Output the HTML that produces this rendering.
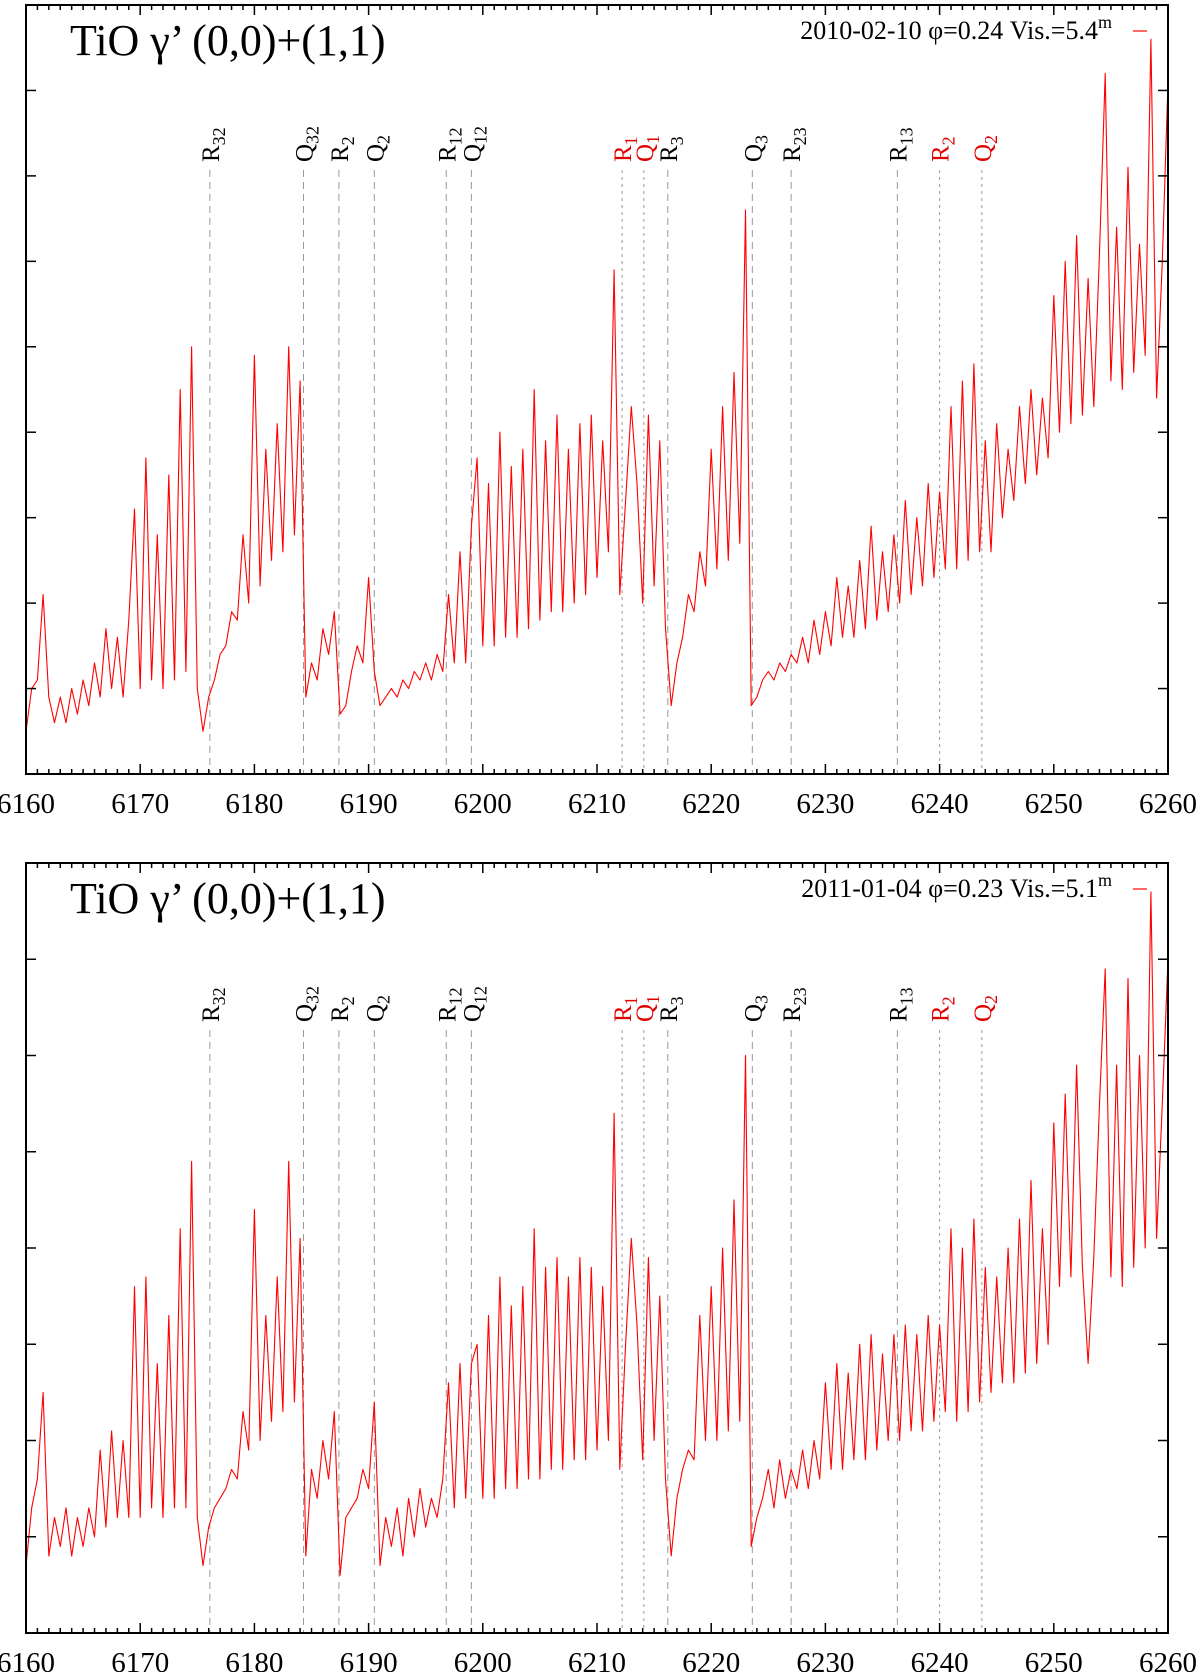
<!DOCTYPE html>
<html><head><meta charset="utf-8"><title>TiO spectra</title>
<style>html,body{margin:0;padding:0;background:#fff}svg{display:block}</style></head>
<body>
<svg id="chart" xmlns="http://www.w3.org/2000/svg" width="1200" height="1672" viewBox="0 0 1200 1672" font-family="'Liberation Serif', serif"></svg>
<script>
const xTicks = [6160,6170,6180,6190,6200,6210,6220,6230,6240,6250,6260];
const lambdaStart = 6160;
const lambdaStep = 0.5;
const markerLambdas = [6176.1,6184.3,6187.4,6190.5,6196.8,6199.0,6212.2,6214.1,6216.2,6223.6,6227.0,6236.3,6240.0,6243.7];
const markerLetters = ['R','Q','R','Q','R','Q','R','Q','R','Q','R','R','R','Q'];
const markerSubs = ['32','32','2','2','12','12','1','1','3','3','23','13','2','2'];
const markerRed = [0,0,0,0,0,0,1,1,0,0,0,0,1,1];
const titles = ["TiO γ’ (0,0)+(1,1)","TiO γ’ (0,0)+(1,1)"];
const legends = ["2010-02-10 φ=0.24 Vis.=5.4","2011-01-04 φ=0.23 Vis.=5.1"];
const fluxTop = [0.5,1.0,1.1,2.1,0.9,0.6,0.9,0.6,1.0,0.7,1.1,0.8,1.3,0.9,1.7,1.0,1.6,0.9,1.8,3.1,
1.0,3.7,1.1,2.8,1.0,3.5,1.1,4.5,1.2,5.0,1.0,0.5,0.9,1.1,1.4,1.5,1.9,1.8,2.8,2.0,
4.9,2.2,3.8,2.5,4.1,2.6,5.0,2.8,4.6,0.9,1.3,1.1,1.7,1.4,1.9,0.7,0.8,1.2,1.5,1.3,
2.3,1.2,0.8,0.9,1.0,0.9,1.1,1.0,1.2,1.1,1.3,1.1,1.4,1.2,2.1,1.3,2.6,1.3,2.9,3.7,
1.5,3.4,1.5,4.0,1.6,3.6,1.6,3.8,1.7,4.5,1.8,3.9,1.9,4.2,1.9,3.8,2.0,4.1,2.1,4.2,
2.3,3.9,2.6,5.9,2.1,3.2,4.3,3.4,2.0,4.2,2.2,3.9,1.7,0.8,1.3,1.6,2.1,1.9,2.6,2.2,
3.8,2.4,4.3,2.5,4.7,2.7,6.6,0.8,0.9,1.1,1.2,1.1,1.3,1.2,1.4,1.3,1.6,1.3,1.8,1.4,
1.9,1.5,2.3,1.6,2.2,1.6,2.5,1.7,2.9,1.8,2.6,1.9,2.8,2.0,3.2,2.1,3.0,2.2,3.4,2.3,
3.3,2.4,4.3,2.4,4.6,2.5,4.8,2.6,3.9,2.6,4.1,3.0,3.8,3.2,4.3,3.4,4.5,3.5,4.4,3.7,
5.6,4.0,6.0,4.1,6.3,4.2,5.8,4.3,6.1,8.2,4.6,6.4,4.5,7.1,4.7,6.2,4.9,8.6,4.4,6.0,8.1];
const fluxBottom = [0.7,1.3,1.6,2.5,0.8,1.2,0.9,1.3,0.8,1.2,0.9,1.3,1.0,1.9,1.1,2.1,1.2,2.0,1.2,3.6,
1.2,3.7,1.3,2.8,1.2,3.3,1.3,4.2,1.3,4.9,1.2,0.7,1.1,1.3,1.4,1.5,1.7,1.6,2.3,1.9,
4.4,2.0,3.3,2.2,3.7,2.3,4.9,2.4,4.1,0.8,1.7,1.4,2.0,1.6,2.3,0.6,1.2,1.3,1.4,1.7,
1.5,2.4,0.7,1.2,0.9,1.3,0.8,1.4,1.0,1.5,1.1,1.4,1.2,1.6,2.6,1.3,2.8,1.4,2.8,3.0,
1.4,3.3,1.4,3.7,1.5,3.4,1.5,3.6,1.6,4.2,1.6,3.8,1.7,3.9,1.7,3.7,1.8,3.9,1.8,3.8,
1.9,3.6,2.0,5.4,1.7,3.0,4.1,3.2,1.8,3.9,2.0,3.5,1.6,0.8,1.4,1.7,1.9,1.8,3.3,2.0,
3.6,2.0,4.0,2.1,4.5,2.2,6.0,0.9,1.2,1.4,1.7,1.3,1.8,1.4,1.7,1.5,1.9,1.5,2.0,1.6,
2.6,1.7,2.8,1.7,2.7,1.8,3.0,1.8,3.1,1.9,2.9,2.0,3.1,2.0,3.2,2.1,3.1,2.1,3.3,2.2,
3.2,2.3,4.2,2.2,4.0,2.3,4.3,2.4,3.8,2.5,3.7,2.6,4.0,2.6,4.3,2.7,4.7,2.8,4.2,3.0,
5.3,3.6,5.6,3.7,5.9,3.8,2.8,3.9,5.5,6.9,3.7,5.9,3.6,6.8,3.8,6.0,4.0,7.7,4.1,5.5,7.0];

const NS = 'http://www.w3.org/2000/svg';
const svg = document.getElementById('chart');
function mk(tag, attrs, parent){const e=document.createElementNS(NS,tag);for(const k in attrs)e.setAttribute(k,attrs[k]);(parent||svg).appendChild(e);return e;}

const X0=26, X1=1168;
function xScale(l){return X0+(l-6160)/(6260-6160)*(X1-X0);}

const panels=[
 {top:5,bottom:774,ymax:9,flux:fluxTop,labBase:162,lineTop:170,name:'top'},
 {top:863,bottom:1633,ymax:8,flux:fluxBottom,labBase:1022,lineTop:1030,name:'bottom'}
];

panels.forEach((p,pi)=>{
  const g=mk('g',{});
  
  
  const yScale=v=>p.bottom-v/p.ymax*(p.bottom-p.top);
  markerLambdas.forEach((l,i)=>{
    const x=xScale(l);
    const ln=mk('line',{x1:x,x2:x,y1:p.lineTop,y2:p.bottom,stroke:'#999','stroke-width':1,'stroke-dasharray':markerRed[i]?'3,4':'7,5'},g);
    
    
    const t=mk('text',{x:0,y:0,transform:'translate('+(x+9)+','+p.labBase+') rotate(-90)','font-size':25,fill:markerRed[i]?'#e00000':'#000'},g);
    
    
    t.textContent=markerLetters[i];
    const s=mk('tspan',{dy:6,'font-size':18},t);
    s.textContent=markerSubs[i];
  });
  let d='';
  p.flux.forEach((v,i)=>{const x=xScale(lambdaStart+i*lambdaStep);d+=(i?'L':'M')+x.toFixed(1)+','+yScale(v).toFixed(1);});
  const path=mk('path',{d:d,fill:'none',stroke:'#ff0000','stroke-width':1.1,'stroke-linejoin':'round'},g);
  
  
  const fr=mk('rect',{x:X0,y:p.top,width:X1-X0,height:p.bottom-p.top,fill:'none',stroke:'#000','stroke-width':2},g);
  
  
  for(let l=6160;l<=6260;l++){
    const x=xScale(l);const major=(l%10===0);const len=major?10:5;
    mk('line',{x1:x,x2:x,y1:p.bottom,y2:p.bottom-len,stroke:'#000','stroke-width':1.5},g);
    mk('line',{x1:x,x2:x,y1:p.top,y2:p.top+len,stroke:'#000','stroke-width':1.5},g);
  }
  xTicks.forEach(l=>{
    const t=mk('text',{x:xScale(l),y:p.bottom+39,'text-anchor':'middle','font-size':29},g);
    
    
    t.textContent=l;
  });
  for(let k=1;k<p.ymax;k++){
    const y=yScale(k);
    mk('line',{x1:X0,x2:X0+10,y1:y,y2:y,stroke:'#000','stroke-width':1.5},g);
    mk('line',{x1:X1,x2:X1-10,y1:y,y2:y,stroke:'#000','stroke-width':1.5},g);
  }
  const tt=mk('text',{x:70,y:p.top+50,'font-size':44},g);
  
  
  tt.textContent=titles[pi];
  const lg=mk('text',{x:1112,y:p.top+34,'font-size':26,'text-anchor':'end'},g);
  
  
  lg.textContent=legends[pi];
  const sup=mk('tspan',{dy:-11,'font-size':18},lg);sup.textContent='m';
  const ls=mk('line',{x1:1133,x2:1147,y1:p.top+26,y2:p.top+26,stroke:'#ff0000','stroke-width':1.2},g);
  
  
});
</script>
</body></html>
